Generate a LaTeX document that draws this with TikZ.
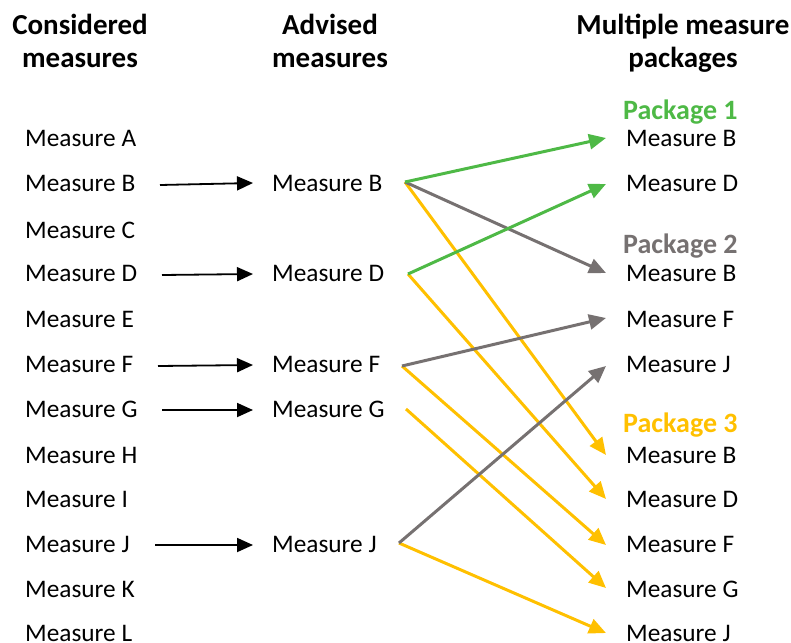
\documentclass[tikz,border=0pt]{standalone}
\usepackage{fontspec}
\setmainfont{Carlito}
\usetikzlibrary{arrows.meta}
\definecolor{pkggreen}{HTML}{4EB946}
\definecolor{pkggray}{HTML}{767171}
\definecolor{pkgyellow}{HTML}{FFC000}
\tikzset{
  item/.style={anchor=base west, inner sep=0pt, font=\fontsize{25.3}{30}\selectfont},
  head/.style={anchor=base, inner sep=0pt, align=center, font=\fontsize{29}{32.5}\selectfont\bfseries},
  pkg/.style={anchor=base west, inner sep=0pt, font=\fontsize{28}{33}\selectfont\bfseries},
  advise/.style={draw=black, line width=1.8pt, -{Triangle[length=16pt,width=14pt]}},
  link/.style={line width=3pt, -{Triangle[length=17pt,width=15pt]}},
}
\begin{document}
\begin{tikzpicture}[x=1pt,y=-1pt]
\useasboundingbox (0,0) rectangle (791,642);

% column headings (base anchor sits on the last line)
\node[head] (h1) at (80,67) {Considered\\measures};
\node[head] (h2) at (330,67) {Advised\\measures};
\node[head] (h3) at (683,67) {Multiple measure\\packages};

% considered measures
\foreach \l/\y in {A/138,B/183,C/230,D/273,E/319,F/364,G/409,H/455,I/499,J/544,K/589,L/633}
  \node[item] (c\l) at (25,\y+8) {Measure \l};

% advised measures
\foreach \l/\y in {B/183,D/273,F/364,G/409,J/544}
  \node[item] (a\l) at (272,\y+8) {Measure \l};

% packages
\node[pkg, text=pkggreen] (p1) at (623,110+9) {Package 1};
\node[item] (p1B) at (626,138+8) {Measure B};
\node[item] (p1D) at (626,183+8) {Measure D};

\node[pkg, text=pkggray] (p2) at (623,244+9) {Package 2};
\node[item] (p2B) at (626,273+8) {Measure B};
\node[item] (p2F) at (626,319+8) {Measure F};
\node[item] (p2J) at (626,364+8) {Measure J};

\node[pkg, text=pkgyellow] (p3) at (623,423+9) {Package 3};
\node[item] (p3B) at (626,455+8) {Measure B};
\node[item] (p3D) at (626,499+8) {Measure D};
\node[item] (p3F) at (626,544+8) {Measure F};
\node[item] (p3G) at (626,589+8) {Measure G};
\node[item] (p3J) at (626,633+8) {Measure J};

% tail points of the package links
\coordinate (tB) at (405,182);
\coordinate (tD) at (408,274);
\coordinate (tF) at (402,366);
\coordinate (tG) at (406,409);
\coordinate (tJ) at (399,543);

% considered -> advised
\draw[advise] (160,185) -- ([xshift=-19pt,yshift=8pt]aB.base west);
\draw[advise] (162,275) -- ([xshift=-19pt,yshift=7pt]aD.base west);
\draw[advise] (158,366) -- ([xshift=-19pt,yshift=7pt]aF.base west);
\draw[advise] (162,410) -- ([xshift=-19pt,yshift=7pt]aG.base west);
\draw[advise] (155,545) -- ([xshift=-19pt,yshift=7pt]aJ.base west);

% advised -> packages
\draw[link, pkgyellow] (tB) -- ([xshift=-20pt,yshift=8pt]p3B.base west);
\draw[link, pkgyellow] (tD) -- ([xshift=-20pt,yshift=8pt]p3D.base west);
\draw[link, pkgyellow] (tF) -- ([xshift=-20pt,yshift=7pt]p3F.base west);
\draw[link, pkgyellow] (tG) -- ([xshift=-20pt,yshift=9pt]p3G.base west);
\draw[link, pkgyellow] (tJ) -- ([xshift=-20pt,yshift=8pt]p3J.base west);
\draw[link, pkggray] (tB) -- ([xshift=-20pt,yshift=8pt]p2B.base west);
\draw[link, pkggray] (tF) -- ([xshift=-20pt,yshift=9pt]p2F.base west);
\draw[link, pkggray] (tJ) -- ([xshift=-20pt,yshift=6pt]p2J.base west);
\draw[link, pkggreen] (tB) -- ([xshift=-20pt,yshift=8pt]p1B.base west);
\draw[link, pkggreen] (tD) -- ([xshift=-20pt,yshift=7pt]p1D.base west);
\end{tikzpicture}
\end{document}
